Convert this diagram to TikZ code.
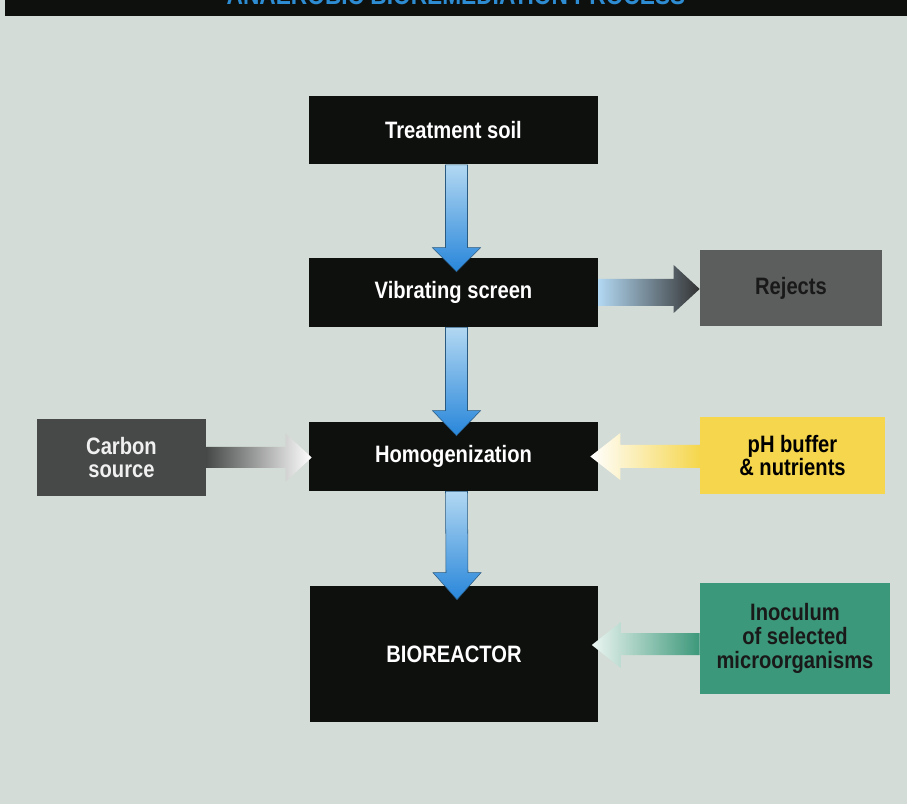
\documentclass[tikz,border=0pt]{standalone}
\usepackage{fontspec}
\setmainfont{Liberation Sans}[FakeStretch=0.85]
\usetikzlibrary{calc}
\definecolor{bgcol}{RGB}{211,220,214}
\definecolor{boxblack}{RGB}{14,16,14}
\definecolor{titleblue}{RGB}{45,140,210}
\definecolor{arrowtop}{RGB}{178,216,242}
\definecolor{arrowbot}{RGB}{40,134,218}
\definecolor{arrowedge}{RGB}{40,90,130}
\definecolor{rejectcol}{RGB}{92,93,93}
\definecolor{carboncol}{RGB}{70,73,71}
\definecolor{phcol}{RGB}{245,214,76}
\definecolor{inoccol}{RGB}{60,152,122}
\tikzset{
	blackbox/.style={fill=boxblack,text=white,minimum width=5.78cm,minimum height=1.38cm,inner sep=0pt,
		font=\bfseries\fontsize{13.5}{13.6}\selectfont},
	sidebox/.style={align=center,inner sep=0pt,font=\bfseries\fontsize{13.5}{13.6}\selectfont},
}
\begin{document}
\begin{tikzpicture}[x=0.02cm,y=-0.02cm]
	%Nen
	\fill[bgcol] (0,0) rectangle (907,804);
	\useasboundingbox (0,0) rectangle (907,804);
	%Tieu de
	\fill[boxblack] (5,0) rectangle (907,16);
	\begin{scope}
		\clip (5,0) rectangle (907,16);
		\node[anchor=base,text=titleblue,inner sep=0pt,font=\bfseries\fontsize{15.2}{16}\selectfont] (title) at (456,5) {ANAEROBIC BIOREMEDIATION PROCESS};
	\end{scope}
	%Khung chinh
	\node[blackbox] (soil) at (453.5,130) {Treatment soil};
	\node[blackbox] (screen) at (453.5,292.5) {Vibrating screen};
	\node[blackbox] (homog) at (453.5,456.5) {Homogenization};
	\node[blackbox,minimum height=2.72cm] (reactor) at (454,654) {BIOREACTOR};
	%Khung phu
	\node[sidebox,fill=rejectcol,text=black!90,minimum width=3.64cm,minimum height=1.52cm] (rejects) at (791,288) {Rejects};
	\node[sidebox,fill=carboncol,text=white!94!black,minimum width=3.38cm,minimum height=1.54cm] (carbon) at (121.5,457.5) {Carbon\\source};
	\node[sidebox,fill=phcol,text=black,minimum width=3.7cm,minimum height=1.54cm] (ph) at (792.5,455.5) {pH buffer\\\& nutrients};
	\node[sidebox,fill=inoccol,text=black!90,minimum width=3.8cm,minimum height=2.22cm] (inoc) at (795,638.5) {Inoculum\\of selected\\microorganisms};
	%Mui ten doc
	\shade[top color=arrowtop,bottom color=arrowbot,draw=arrowedge,line width=0.3pt]
		($(soil.south)+(-8,0)$) -- ($(screen.north)+(-8,-10)$) -- ($(screen.north)+(-21,-10)$) -- ($(screen.north)+(3,14)$)
		-- ($(screen.north)+(27,-10)$) -- ($(screen.north)+(14,-10)$) -- ($(soil.south)+(14,0)$) -- cycle;
	\shade[top color=arrowtop,bottom color=arrowbot,draw=arrowedge,line width=0.3pt]
		($(screen.south)+(-8,0)$) -- ($(homog.north)+(-8,-11)$) -- ($(homog.north)+(-21,-11)$) -- ($(homog.north)+(3,14)$)
		-- ($(homog.north)+(27,-11)$) -- ($(homog.north)+(14,-11)$) -- ($(screen.south)+(14,0)$) -- cycle;
	\shade[top color=arrowtop,bottom color=arrowbot,draw=arrowedge,line width=0.3pt]
		($(homog.south)+(-8,0)$) -- ($(reactor.north)+(-8,-13)$) -- ($(reactor.north)+(-21,-13)$) -- ($(reactor.north)+(3,14)$)
		-- ($(reactor.north)+(27,-13)$) -- ($(reactor.north)+(14,-13)$) -- ($(homog.south)+(14,0)$) -- cycle;
	%Mui ten ngang
	\shade[left color=arrowtop,right color=black!80]
		($(screen.east)+(0,-13.5)$) -- ($(rejects.west)+(-26,-9)$) -- ($(rejects.west)+(-26,-23)$) -- ($(rejects.west)+(0,1)$)
		-- ($(rejects.west)+(-26,25)$) -- ($(rejects.west)+(-26,18)$) -- ($(screen.east)+(0,13.5)$) -- cycle;
	\shade[left color=carboncol,right color=white]
		($(carbon.east)+(0,-10.5)$) -- ($(homog.west)+(-23,-9.5)$) -- ($(homog.west)+(-23,-23)$) -- ($(homog.west)+(3,1)$)
		-- ($(homog.west)+(-23,25)$) -- ($(homog.west)+(-23,11.5)$) -- ($(carbon.east)+(0,10.5)$) -- cycle;
	\shade[left color=white,right color=phcol]
		($(ph.west)+(0,-10.5)$) -- ($(homog.east)+(22,-11.5)$) -- ($(homog.east)+(22,-23.5)$) -- ($(homog.east)+(-8,0)$)
		-- ($(homog.east)+(22,23.5)$) -- ($(homog.east)+(22,11.5)$) -- ($(ph.west)+(0,12.5)$) -- cycle;
	\shade[left color=white!90!inoccol,right color=inoccol]
		($(inoc.west)+(0,-5.5)$) -- ($(reactor.east)+(22,-21)$) -- ($(reactor.east)+(22,-32)$) -- ($(reactor.east)+(-7,-9)$)
		-- ($(reactor.east)+(22,14)$) -- ($(reactor.east)+(22,1)$) -- ($(inoc.west)+(0,16.5)$) -- cycle;
\end{tikzpicture}
\end{document}
